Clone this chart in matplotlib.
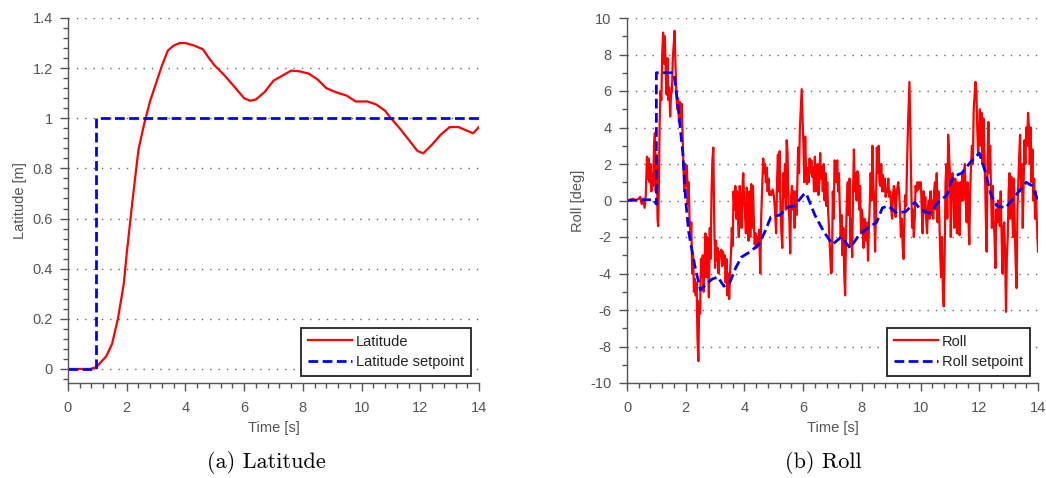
import matplotlib
matplotlib.use("Agg")
import matplotlib.pyplot as plt
from matplotlib.ticker import MultipleLocator

plt.rcParams["axes.unicode_minus"] = False

# latitude step response
lat_t = [0.0, 0.75, 0.9, 1.0, 1.3, 1.5, 1.7, 1.9, 2.0, 2.2, 2.4, 2.6, 2.8, 3.0,
         3.2, 3.4, 3.6, 3.8, 4.0, 4.3, 4.6, 4.8, 5.0, 5.3, 5.6, 6.0, 6.2, 6.4,
         6.7, 7.0, 7.3, 7.6, 7.9, 8.2, 8.5, 8.8, 9.1, 9.5, 9.8, 10.2, 10.5,
         10.8, 11.0, 11.3, 11.6, 11.9, 12.1, 12.4, 12.7, 13.0, 13.3, 13.6,
         13.8, 14.0]
lat_m = [0.0, 0.0, 0.005, 0.012, 0.05, 0.10, 0.20, 0.34, 0.46, 0.675, 0.875,
         0.98, 1.07, 1.14, 1.21, 1.27, 1.29, 1.30, 1.30, 1.29, 1.275, 1.24,
         1.21, 1.175, 1.135, 1.08, 1.07, 1.075, 1.105, 1.15, 1.17, 1.19,
         1.187, 1.178, 1.155, 1.12, 1.105, 1.09, 1.067, 1.067, 1.055, 1.03,
         1.0, 0.96, 0.915, 0.87, 0.86, 0.895, 0.935, 0.965, 0.965, 0.95,
         0.94, 0.965]
lat_sp_t = [0.0, 0.94, 0.94, 14.0]
lat_sp_m = [0.0, 0.0, 1.0, 1.0]

# roll response
roll_t = [0.00, 0.10, 0.20, 0.30, 0.40, 0.45, 0.50, 0.55, 0.60, 0.64, 0.68,
          0.71, 0.74, 0.77, 0.80, 0.83, 0.86, 0.89, 0.92, 0.95, 0.98, 1.01,
          1.04, 1.06, 1.09, 1.11, 1.14, 1.17, 1.20, 1.23, 1.26, 1.29, 1.32,
          1.35, 1.38, 1.41, 1.44, 1.47, 1.50, 1.53, 1.56, 1.59, 1.62, 1.65,
          1.68, 1.71, 1.74, 1.77, 1.80, 1.83, 1.86, 1.89, 1.92, 1.95, 1.98,
          2.01, 2.04, 2.07, 2.10, 2.13, 2.16, 2.19, 2.22, 2.25, 2.28, 2.31,
          2.34, 2.37, 2.40, 2.43, 2.46, 2.49, 2.52, 2.55, 2.58, 2.61, 2.64,
          2.67, 2.70, 2.73, 2.76, 2.79, 2.82, 2.85, 2.88, 2.91, 2.94, 2.97,
          3.00, 3.03, 3.06, 3.09, 3.12, 3.15, 3.18, 3.21, 3.24, 3.27, 3.30,
          3.33, 3.36, 3.39, 3.42, 3.45, 3.48, 3.51, 3.54, 3.57, 3.60, 3.63,
          3.66, 3.69, 3.72, 3.75, 3.78, 3.81, 3.84, 3.87, 3.90, 3.93, 3.96,
          3.99, 4.02, 4.05, 4.08, 4.11, 4.14, 4.17, 4.20, 4.23, 4.26, 4.29,
          4.32, 4.35, 4.38, 4.41, 4.44, 4.47, 4.50, 4.54, 4.57, 4.61, 4.64,
          4.67, 4.70, 4.73, 4.76, 4.79, 4.82, 4.85, 4.88, 4.92, 4.96, 5.00,
          5.04, 5.08, 5.11, 5.14, 5.17, 5.20, 5.23, 5.26, 5.29, 5.32, 5.35,
          5.38, 5.41, 5.44, 5.47, 5.50, 5.53, 5.56, 5.59, 5.62, 5.65, 5.68,
          5.71, 5.74, 5.77, 5.80, 5.83, 5.86, 5.89, 5.92, 5.95, 5.98, 6.01,
          6.04, 6.07, 6.10, 6.13, 6.16, 6.19, 6.22, 6.25, 6.28, 6.31, 6.34,
          6.37, 6.40, 6.43, 6.46, 6.49, 6.52, 6.55, 6.58, 6.61, 6.64, 6.67,
          6.70, 6.73, 6.76, 6.79, 6.82, 6.85, 6.88, 6.92, 6.95, 6.98, 7.01,
          7.04, 7.07, 7.10, 7.13, 7.16, 7.19, 7.22, 7.25, 7.28, 7.31, 7.34,
          7.37, 7.40, 7.43, 7.46, 7.49, 7.52, 7.55, 7.58, 7.61, 7.64, 7.67,
          7.70, 7.73, 7.76, 7.79, 7.82, 7.85, 7.88, 7.91, 7.94, 7.97, 8.00,
          8.03, 8.06, 8.09, 8.12, 8.15, 8.18, 8.21, 8.24, 8.27, 8.30, 8.33,
          8.36, 8.39, 8.42, 8.45, 8.48, 8.51, 8.54, 8.57, 8.60, 8.63, 8.66,
          8.69, 8.72, 8.75, 8.78, 8.81, 8.84, 8.87, 8.90, 8.93, 8.97, 9.00,
          9.03, 9.06, 9.09, 9.12, 9.15, 9.18, 9.21, 9.24, 9.27, 9.30, 9.33,
          9.36, 9.39, 9.42, 9.45, 9.48, 9.51, 9.54, 9.57, 9.60, 9.62, 9.65,
          9.68, 9.71, 9.74, 9.77, 9.80, 9.83, 9.86, 9.89, 9.92, 9.95, 9.98,
          10.01, 10.04, 10.07, 10.10, 10.13, 10.16, 10.19, 10.22, 10.25,
          10.28, 10.31, 10.34, 10.37, 10.40, 10.43, 10.46, 10.49, 10.52,
          10.55, 10.58, 10.61, 10.64, 10.67, 10.70, 10.73, 10.76, 10.79,
          10.82, 10.85, 10.88, 10.91, 10.94, 10.97, 11.00, 11.03, 11.06,
          11.09, 11.12, 11.15, 11.18, 11.21, 11.24, 11.27, 11.30, 11.33,
          11.36, 11.39, 11.42, 11.45, 11.48, 11.51, 11.54, 11.57, 11.60,
          11.63, 11.66, 11.69, 11.72, 11.75, 11.78, 11.81, 11.84, 11.87,
          11.90, 11.93, 11.96, 11.99, 12.02, 12.05, 12.08, 12.11, 12.14,
          12.17, 12.20, 12.23, 12.25, 12.28, 12.31, 12.34, 12.37, 12.40,
          12.43, 12.46, 12.49, 12.52, 12.55, 12.58, 12.61, 12.64, 12.67,
          12.70, 12.73, 12.76, 12.79, 12.82, 12.85, 12.88, 12.91, 12.94,
          12.97, 13.00, 13.03, 13.06, 13.09, 13.12, 13.15, 13.18, 13.21,
          13.24, 13.27, 13.30, 13.33, 13.36, 13.39, 13.42, 13.45, 13.48,
          13.51, 13.54, 13.57, 13.60, 13.63, 13.66, 13.69, 13.72, 13.75,
          13.78, 13.81, 13.84, 13.87, 13.90, 13.93, 13.96, 14.00]
roll_deg = [0.0, 0.05, 0.1, 0.0, 0.1, 0.2, -0.2, 0.1, -0.4, 0.3, 2.4,
            1.2, 2.3, 1.0, 2.0, 0.5, 1.5, 0.8, 3.0, 3.7, 0.5, 2.5,
            -1.0, -1.4, 1.0, 4.0, 6.0, 5.5, 8.0, 9.2, 7.5, 9.0, 7.0,
            5.8, 7.8, 5.5, 6.2, 4.6, 5.8, 6.0, 7.8, 8.5, 9.3, 7.5,
            6.0, 5.0, 5.6, 4.3, 5.4, 4.5, 5.3, 3.8, 2.0, 0.5, 2.0,
            0.8, 1.9, -0.2, 1.0, -1.0, -2.0, -1.2, -4.0, -3.0, -5.0, -4.3,
            -5.2, -4.5, -7.5, -8.8, -5.5, -6.2, -3.2, -4.2, -3.0, -5.0, -3.5,
            -1.8, -4.2, -2.0, -3.4, -5.3, -1.5, -3.2, 0.5, 2.2, 2.9, -1.0,
            -3.7, -2.2, -3.3, -2.6, -4.0, -2.8, -3.0, -2.7, -3.6, -2.8, -3.5,
            -3.0, -4.5, -3.2, -5.2, -4.0, -5.4, -4.0, -3.0, -1.5, -2.5, 0.5,
            -0.5, 0.8, -1.0, 0.5, -1.0, -2.0, 0.8, -0.5, -1.5, 0.6, 1.5,
            0.0, -0.8, -1.8, 0.7, -0.3, -2.2, 0.5, -2.0, 0.9, -1.5, 0.8,
            -1.0, -2.4, -1.8, -2.6, -2.0, -2.3, -1.6, -4.0, -1.0, 1.0, 2.3,
            1.5, 2.0, 1.0, 1.8, 0.5, 1.2, 0.3, 0.5, 0.3, 0.6, 0.3,
            -0.5, -1.8, 1.0, 2.5, 0.5, 2.7, -0.5, -1.8, -2.6, 1.5, 0.2,
            2.0, -0.5, 3.3, 2.5, -0.3, -1.0, -2.9, 0.2, 0.8, -0.5, 0.5,
            -1.5, 0.5, -0.8, 0.8, 2.9, 1.5, 4.0, 5.0, 6.1, 4.5, 3.0,
            1.0, 3.5, 1.5, 0.9, 1.8, 1.0, 2.3, 1.5, 2.2, 1.3, 1.8,
            0.5, 2.4, 0.5, 1.2, 2.0, 0.3, 1.0, 2.6, 1.2, 1.8, 0.5,
            2.0, 0.0, 1.5, -0.3, 1.0, -0.5, -1.5, -3.0, -4.0, -3.9, 0.5,
            -1.0, 2.2, 2.0, 1.0, 2.2, 0.5, 1.5, -0.5, -2.0, -0.8, -3.0,
            -1.5, -4.0, -5.2, -2.0, 0.0, 1.0, -0.8, 1.2, -2.5, -1.0, -3.1,
            0.5, 2.8, 0.5, 1.5, 0.0, 1.6, 1.4, -0.5, 0.8, -1.8, -0.5,
            -1.0, -2.6, -1.0, -1.7, -2.2, -1.2, -3.3, -1.5, -0.2, 1.5, 0.0,
            3.0, 1.0, 0.0, -2.8, -0.5, 2.9, 1.5, 3.0, 1.0, 0.8, 2.0,
            0.5, 1.4, 0.5, 1.2, 0.2, 0.5, 0.5, 1.2, 0.2, 0.5, -0.5,
            -1.0, 0.3, 0.8, 0.6, -0.9, 0.2, 0.7, 1.0, 0.4, -0.5, -2.0,
            -1.0, -2.5, -3.2, -1.0, 0.3, -0.3, 2.0, 4.0, 5.5, 6.5, 4.0,
            1.0, -1.5, -0.5, -2.0, -1.0, 0.8, 0.5, 1.0, 0.6, 1.0, 0.7,
            1.0, -0.5, -1.8, 0.5, -0.7, 0.2, -1.0, -1.8, -0.5,
            0.0, -1.0, 0.5, -0.8, 0.0, -1.0, 0.5, 1.0, -0.5,
            1.5, -1.2, 0.5, -1.0, -3.0, -4.2, -2.0, -5.0, -5.8,
            -3.0, 1.0, 2.0, -1.0, 3.6, 2.5, 1.5, -2.0, 1.3,
            1.5, 0.5, -1.5, 1.2, 0.5, -1.8, 1.0, 0.5, -1.9,
            1.0, 0.0, 1.5, 0.0, 1.5, 2.0, 0.0, -1.2, 1.0,
            -1.0, -2.4, 0.5, 2.0, 3.0, 2.0, 5.0, 5.8, 6.5,
            6.0, 4.0, 2.5, 3.5, 5.0, 3.0, 4.8, 2.0, 4.5,
            3.0, 1.0, -1.5, -2.8, 2.0, 4.3, 1.5, 3.0, 0.5,
            -1.5, 0.8, -1.0, -2.0, -3.7, -0.5, -1.2, 0.0, -0.5,
            -1.4, 0.5, -2.0, -4.0, -1.5, -1.2, -3.0, -6.1, -3.0,
            -2.0, 0.5, 1.5, -1.0, 1.3, -0.5, -2.0, 1.2, -1.5,
            -3.5, -4.8, -0.5, 1.0, 2.5, 3.6, 0.5, 2.0, -1.5,
            1.0, 3.3, 2.0, 4.0, 3.0, 4.8, 4.0, 2.0, 4.0,
            1.0, 2.8, 0.0, 1.2, -1.0, 0.5, -1.2, -2.8]
roll_sp_t = [0.0, 0.9, 1.0, 1.0, 1.6, 1.75, 1.9, 2.0, 2.1, 2.3, 2.5, 2.7,
             2.9, 3.1, 3.3, 3.5, 3.7, 3.9, 4.2, 4.5, 4.7, 4.9, 5.2, 5.5, 5.7,
             6.0, 6.1, 6.4, 6.7, 7.0, 7.3, 7.6, 7.9, 8.2, 8.5, 8.7, 8.9, 9.2,
             9.5, 9.8, 10.0, 10.3, 10.6, 10.9, 11.1, 11.4, 11.7, 12.0, 12.2,
             12.4, 12.6, 12.9, 13.1, 13.4, 13.6, 13.8, 14.0]
roll_sp_deg = [0.0, 0.05, -0.2, 7.0, 7.0, 5.0, 2.6, 0.0, -1.7, -3.5, -4.9,
               -4.6, -4.3, -4.2, -4.7, -4.5, -3.7, -3.1, -2.8, -2.4, -1.7,
               -0.9, -0.8, -0.35, -0.3, 0.3, 0.4, -0.8, -1.7, -2.4, -2.0,
               -2.6, -1.9, -1.5, -1.2, -0.4, -0.3, -0.7, -0.6, -0.1, -0.5,
               -0.7, -0.1, 0.3, 1.3, 1.5, 2.1, 2.6, 1.6, 0.3, -0.3, -0.4,
               0.0, 0.6, 1.0, 0.8, 0.0]

GRAY = "#555555"
FONT = ["Liberation Sans Narrow", "Liberation Sans", "DejaVu Sans"]

fig = plt.figure(figsize=(10.46, 4.78), dpi=100)
ax1 = fig.add_axes([68 / 1046, 1 - 383 / 478, 411 / 1046, 365 / 478])
ax2 = fig.add_axes([627 / 1046, 1 - 383 / 478, 411 / 1046, 365 / 478])


def style_axis(ax, ylabel, major_y, minor_y):
    for side in ("top", "right"):
        ax.spines[side].set_visible(False)
    for side in ("left", "bottom"):
        ax.spines[side].set_color(GRAY)
        ax.spines[side].set_linewidth(1.0)
    ax.set_xlim(0, 14)
    ax.xaxis.set_major_locator(MultipleLocator(2))
    ax.xaxis.set_minor_locator(MultipleLocator(0.4))
    ax.yaxis.set_major_locator(MultipleLocator(major_y))
    ax.yaxis.set_minor_locator(MultipleLocator(minor_y))
    ax.tick_params(which="major", direction="out", length=6, width=1,
                   color=GRAY, labelcolor=GRAY, labelsize=10.5)
    ax.tick_params(axis="x", which="major", pad=7)
    ax.tick_params(axis="y", which="major", pad=5)
    ax.tick_params(which="minor", direction="out", length=3.5, width=1,
                   color=GRAY)
    for lab in ax.get_xticklabels() + ax.get_yticklabels():
        lab.set_family(FONT)
    ax.yaxis.grid(True, which="major", linestyle=(0, (1, 5)), color="#666666",
                  linewidth=1.0)
    ax.set_axisbelow(True)
    ax.set_xlabel("Time [s]", color=GRAY, fontsize=10.5, family=FONT,
                  labelpad=4)
    ax.set_ylabel(ylabel, color=GRAY, fontsize=10.5, family=FONT, labelpad=4)


# (a) latitude
ax1.plot(lat_t, lat_m, color="red", lw=1.6, label="Latitude")
ax1.plot(lat_sp_t, lat_sp_m, color="blue", lw=2.0, dashes=(3.5, 1.6),
         label="Latitude setpoint")
ax1.set_ylim(-0.056, 1.4)
style_axis(ax1, "Latitude [m]", 0.2, 0.04)
ax1.yaxis.set_major_formatter(
    plt.FuncFormatter(lambda v, p: f"{v:g}"))

# (b) roll
ax2.plot(roll_t, roll_deg, color="red", lw=1.6, label="Roll")
ax2.plot(roll_sp_t, roll_sp_deg, color="blue", lw=2.0, dashes=(3.5, 1.6),
         label="Roll setpoint")
ax2.set_ylim(-10, 10)
style_axis(ax2, "Roll [deg]", 2, 1)

for ax in (ax1, ax2):
    leg = ax.legend(loc="lower right", bbox_to_anchor=(0.98, 0.02),
                    borderaxespad=0, frameon=True, fancybox=False,
                    framealpha=1, borderpad=0.45, handlelength=3.0,
                    handletextpad=0.3, labelspacing=0.45,
                    prop={"family": FONT, "size": 10.5})
    leg.get_frame().set_edgecolor("#222222")
    leg.get_frame().set_linewidth(1.3)
    for txt in leg.get_texts():
        txt.set_color("#222222")

fig.text(266 / 1046, 1 - 463 / 478, "(a) Latitude", ha="center",
         va="center", fontsize=16, family="cmr10")
fig.text(823 / 1046, 1 - 463 / 478, "(b) Roll", ha="center", va="center",
         fontsize=16, family="cmr10")

fig.savefig("out.png", dpi=100)
